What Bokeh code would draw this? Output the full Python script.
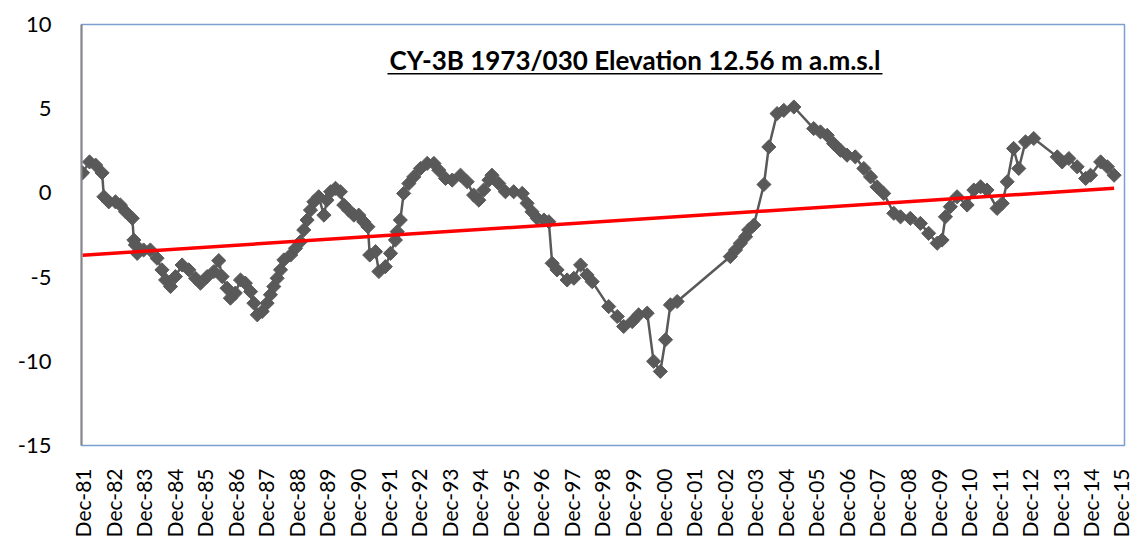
from math import pi
from bokeh.plotting import figure
from bokeh.models import Range1d, FixedTicker, Label, Arrow, BoxAnnotation
from bokeh.embed import file_html
from bokeh.resources import INLINE

# ---- data (years since Dec-1981, water level m) ----
years_since_dec81 = [
    0.00, 0.23, 0.43, 0.64, 0.70, 0.86, 1.08, 1.24, 1.41, 1.63, 1.68, 1.73, 1.79,
    2.00, 2.22, 2.44, 2.60, 2.72, 2.88, 3.04, 3.26, 3.48, 3.70, 3.86, 4.08, 4.30,
    4.46, 4.57, 4.73, 4.84, 5.00, 5.17, 5.33, 5.50, 5.61, 5.72, 5.88, 6.04, 6.15,
    6.26, 6.37, 6.48, 6.59, 6.81, 6.97, 7.13, 7.24, 7.35, 7.46, 7.57, 7.73, 7.90,
    8.00, 8.12, 8.28, 8.44, 8.55, 8.71, 8.88, 9.04, 9.20, 9.34, 9.40, 9.59, 9.70,
    9.91, 10.08, 10.24, 10.30, 10.40, 10.51, 10.68, 10.84, 11.06, 11.28, 11.50,
    11.66, 11.88, 12.10, 12.37, 12.59, 12.80, 12.97, 13.13, 13.30, 13.40, 13.62,
    13.84, 14.11, 14.39, 14.55, 14.71, 14.88, 15.10, 15.26, 15.37, 15.53, 15.86,
    16.08, 16.30, 16.51, 16.68, 17.22, 17.50, 17.71, 17.99, 18.20, 18.48, 18.69,
    18.91, 19.08, 19.24, 19.46, 21.20, 21.37, 21.53, 21.70, 21.80, 21.97, 22.30,
    22.46, 22.73, 22.95, 23.28, 23.93, 24.15, 24.37, 24.58, 24.80, 25.02, 25.29,
    25.57, 25.79, 26.00, 26.22, 26.55, 26.77, 27.09, 27.42, 27.69, 27.97, 28.13,
    28.24, 28.40, 28.62, 28.95, 29.17, 29.39, 29.60, 29.93, 30.10, 30.26, 30.47,
    30.64, 30.86, 31.13, 31.90, 32.06, 32.28, 32.55, 32.83, 32.99, 33.32, 33.54,
    33.76,
]
water_level = [
    1.19, 1.84, 1.65, 1.19, -0.23, -0.53, -0.53, -0.72, -1.12, -1.51, -2.80, -3.09, -3.59,
    -3.39, -3.39, -3.88, -4.57, -5.17, -5.56, -4.97, -4.28, -4.57, -5.07, -5.36, -4.97, -4.67,
    -4.02, -4.97, -5.66, -6.25, -5.95, -5.17, -5.36, -5.86, -6.55, -7.24, -7.04, -6.55, -6.05,
    -5.56, -5.07, -4.57, -3.98, -3.69, -3.29, -2.90, -2.20, -1.61, -1.02, -0.53, -0.23, -1.32,
    -0.43, 0.07, 0.27, 0.07, -0.72, -1.02, -1.32, -1.32, -1.71, -2.01, -3.69, -3.49, -4.67,
    -4.38, -3.59, -2.80, -2.30, -1.61, -0.03, 0.56, 0.95, 1.45, 1.75, 1.75,
    1.35, 0.86, 0.76, 1.05, 0.66, -0.13, -0.43, 0.17, 0.76, 1.05, 0.56,
    0.07, 0.07, -0.03, -0.62, -1.12, -1.51, -1.61, -1.71, -4.18, -4.57, -5.17,
    -5.07, -4.28, -4.87, -5.27, -6.75, -7.34, -7.93, -7.64, -7.24, -7.14, -10.00,
    -10.60, -8.72, -6.65, -6.45, -3.78, -3.39, -2.99, -2.60, -2.20, -1.91, 0.50,
    2.73, 4.71, 4.90, 5.10, 3.82, 3.62, 3.42, 2.93, 2.54, 2.24, 2.14,
    1.45, 0.95, 0.36, -0.03, -1.21, -1.42, -1.51, -1.81, -2.40, -2.99, -2.80,
    -1.42, -0.82, -0.23, -0.72, 0.17, 0.36, 0.17, -0.92, -0.62, 0.66, 2.64,
    1.45, 3.03, 3.23, 2.14, 1.84, 2.04, 1.55, 0.86, 1.05, 1.84, 1.55,
    1.05,
]
trend_x = [0.0, 33.76]
trend_y = [-3.70, 0.27]

tick_labels = ["Dec-%02d" % (y % 100) for y in range(1981, 2016)]
y_ticks = [-15, -10, -5, 0, 5, 10]
y_tick_labels = ["-15", "-10", "-5", "0", "5", "10"]
title_text = "CY-3B 1973/030 Elevation 12.56 m a.m.s.l"

FONT = "Lato"

p = figure(width=1132, height=540, output_backend="svg", toolbar_location=None,
           x_range=Range1d(-0.033, 34.1), y_range=Range1d(-15, 10),
           min_border_left=81, min_border_top=24, min_border_right=8, min_border_bottom=0)
p.grid.visible = False
p.outline_line_color = "#7BA0CD"
p.outline_line_width = 1.5
p.background_fill_color = "white"
p.border_fill_color = "white"

# axes
p.xaxis.ticker = FixedTicker(ticks=list(range(len(tick_labels))))
p.xaxis.major_label_overrides = {i: t for i, t in enumerate(tick_labels)}
p.xaxis.major_label_orientation = pi / 2
p.xaxis.axis_line_color = None
p.xaxis.major_tick_line_color = None
p.xaxis.minor_tick_line_color = None
p.xaxis.major_label_standoff = 17
p.xaxis.major_label_text_font = FONT
p.xaxis.major_label_text_font_size = "21px"
p.xaxis.major_label_text_color = "black"

p.yaxis.ticker = FixedTicker(ticks=y_ticks)
p.yaxis.major_label_overrides = dict(zip(y_ticks, y_tick_labels))
p.yaxis.axis_line_color = "#868686"
p.yaxis.axis_line_width = 2
p.yaxis.major_tick_line_color = None
p.yaxis.minor_tick_line_color = None
p.yaxis.major_label_standoff = 24
p.yaxis.major_label_text_font = FONT
p.yaxis.major_label_text_font_size = "22px"
p.yaxis.major_label_text_color = "black"

# outer chart border
p.add_layout(BoxAnnotation(left=5, right=1143, top=9, bottom=600,
                           left_units="canvas", right_units="canvas",
                           top_units="canvas", bottom_units="canvas",
                           fill_alpha=0, line_color="#8C8C8C", line_width=1.5))

# series
p.line(years_since_dec81, water_level, line_color="#595959", line_width=2.5)
p.scatter(years_since_dec81, water_level, marker="square", size=10, angle=pi / 4,
          fill_color="#595959", line_color="#595959")
p.line(trend_x, trend_y, line_color="#FF0000", line_width=3.5)

# title with underline
p.add_layout(Label(x=18.08, y=7.87, text=title_text, text_align="center",
                   text_baseline="middle", text_font=FONT, text_font_style="bold",
                   text_font_size="26px", text_color="black"))
p.add_layout(Arrow(start=None, end=None, x_start=9.98, y_start=7.07, x_end=26.18, y_end=7.07,
                   line_color="black", line_width=1.5))

open("out.html", "w").write(file_html(p, INLINE))
